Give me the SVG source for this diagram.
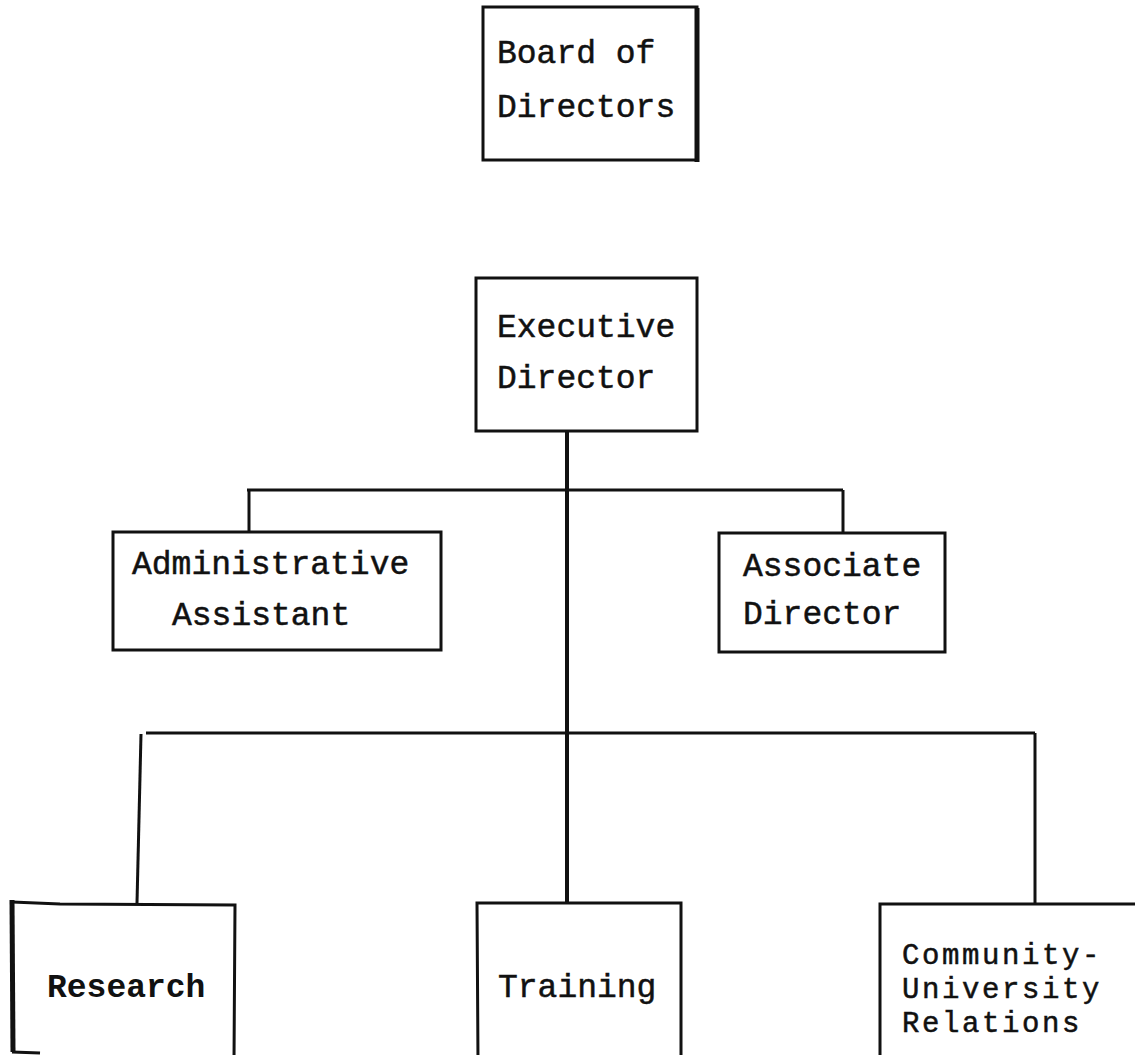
<svg xmlns="http://www.w3.org/2000/svg" width="1135" height="1055" viewBox="0 0 1135 1055">
<style>
.box{fill:none;stroke:#111;stroke-width:3;stroke-linejoin:miter}
.thick{stroke:#111;stroke-width:5;fill:none}
.conn{stroke:#111;stroke-width:3;fill:none}
.main{stroke:#111;stroke-width:4;fill:none}
.t{font-family:"Liberation Mono","Courier New",monospace;font-size:33px;fill:#111;stroke:#111;stroke-width:0.5}
.b{font-weight:bold;stroke-width:0}
.s{font-size:29px;letter-spacing:2.6px}
</style>
<rect width="1135" height="1055" fill="#fff"/>
<g id="connectors">
<line class="main" x1="567" y1="431" x2="567" y2="903"/>
<line class="conn" x1="247" y1="490" x2="843" y2="490"/>
<line class="conn" x1="249" y1="490" x2="249" y2="532"/>
<line class="conn" x1="843" y1="490" x2="843" y2="533"/>
<line class="conn" x1="146" y1="733" x2="1035" y2="733"/>
<polyline class="conn" points="141,734 137,903"/>
<line class="conn" x1="1035" y1="733" x2="1035" y2="903"/>
</g>
<g id="board">
<rect class="box" x="483" y="7" width="214" height="153"/>
<line class="thick" x1="697" y1="8" x2="697" y2="162"/>
<text class="t" x="497" y="63">Board of</text>
<text class="t" x="497" y="117">Directors</text>
</g>
<g id="executive">
<rect class="box" x="476" y="278" width="221" height="153"/>
<text class="t" x="497" y="337">Executive</text>
<text class="t" x="497" y="388">Director</text>
</g>
<g id="admin">
<rect class="box" x="113" y="532" width="328" height="118"/>
<text class="t" x="132" y="574">Administrative</text>
<text class="t" x="172" y="625">Assistant</text>
</g>
<g id="associate">
<rect class="box" x="719" y="533" width="226" height="119"/>
<text class="t" x="743" y="576">Associate</text>
<text class="t" x="743" y="624">Director</text>
</g>
<g id="research">
<path class="box" d="M12,902 L60,904 L235,905 L234,1060"/>
<line class="thick" x1="12" y1="900" x2="13" y2="1052"/>
<path class="box" d="M12,1052 L40,1053"/>
<text class="t b" x="47" y="997">Research</text>
</g>
<g id="training">
<path class="box" d="M478,1060 L477,903 L681,903 L681,1060"/>
<text class="t" x="498" y="997">Training</text>
</g>
<g id="community">
<path class="box" d="M880,1060 L880,904 L1140,904"/>
<text class="t s" x="902" y="964">Community-</text>
<text class="t s" x="902" y="998">University</text>
<text class="t s" x="902" y="1032">Relations</text>
</g>
</svg>
